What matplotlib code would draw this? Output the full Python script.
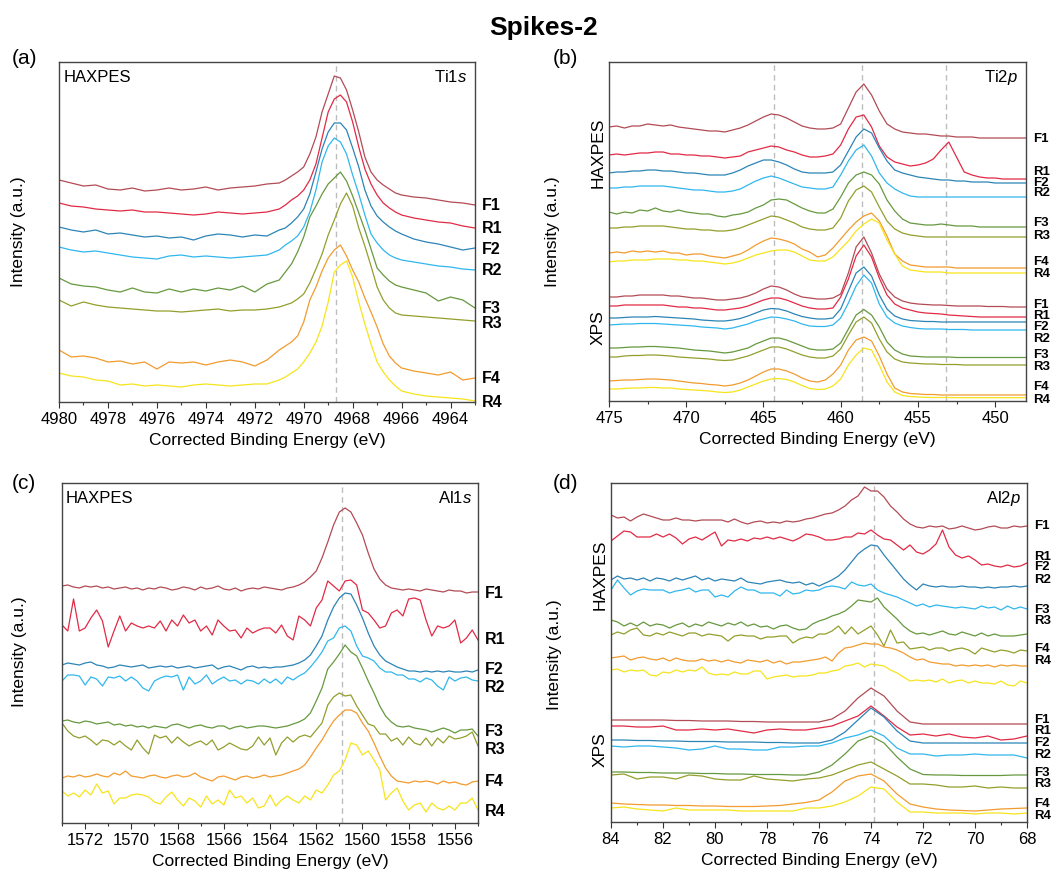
import numpy as np
import matplotlib
matplotlib.use("Agg")
import matplotlib.pyplot as plt
import matplotlib.transforms as mtransforms
from matplotlib.ticker import MultipleLocator

plt.rcParams["font.family"] = ["Liberation Sans", "DejaVu Sans"]
plt.rcParams["mathtext.fontset"] = "custom"
plt.rcParams["mathtext.rm"] = "Liberation Sans"
plt.rcParams["mathtext.it"] = "Liberation Sans:italic"

SAMPLES = ["F1", "R1", "F2", "R2", "F3", "R3", "F4", "R4"]
COLORS = ["#b24b55", "#e12a45", "#2c84b6", "#30b7ee",
          "#66993f", "#939f2c", "#f29b2e", "#f6e41c"]

# ---- (a) Ti 1s, HAXPES (intensity = px above the axis floor, offsets included)
a_energy = [4980, 4979.5, 4979, 4978.5, 4978, 4977.5, 4977, 4976.5, 4976, 4975.5,
            4975, 4974.5, 4974, 4973.5, 4973, 4972.5, 4972, 4971.5, 4971,
            4970.75, 4970.5, 4970.25, 4970, 4969.75, 4969.5, 4969.25, 4969, 4968.75,
            4968.5, 4968.25, 4968, 4967.75, 4967.5, 4967.25, 4967, 4966.75, 4966.5,
            4966.25, 4966, 4965.5, 4965, 4964.5, 4964, 4963.5, 4963]
a_F1 = [222, 219, 216, 217, 213, 212, 214, 211, 212, 214, 212, 213, 215, 212, 214, 215, 216, 218, 219,
        222, 226, 230, 235, 248, 265, 290, 308, 326, 324, 312, 292, 270, 245, 230, 222, 217, 213, 209, 207,
        205, 204, 202, 200, 199, 197]
a_R1 = [199, 196, 195, 193, 192, 191, 192, 190, 190, 189, 188, 187, 188, 190, 189, 188, 189, 190, 193,
        197, 202, 206, 212, 222, 238, 264, 290, 303, 307, 300, 280, 255, 233, 218, 207, 199, 194, 190, 187,
        184, 182, 180, 179, 176, 174]
a_F2 = [175, 172, 170, 172, 168, 169, 167, 165, 166, 164, 165, 162, 166, 168, 167, 165, 167, 166, 172,
        174, 179, 185, 193, 208, 230, 253, 270, 279, 279, 272, 254, 235, 212, 196, 186, 180, 175, 171, 168,
        163, 160, 158, 155, 152, 154]
a_R2 = [155, 152, 150, 151, 149, 147, 145, 144, 143, 146, 147, 145, 146, 145, 144, 145, 146, 147, 152,
        157, 161, 166, 175, 190, 212, 240, 256, 264, 260, 248, 227, 208, 187, 168, 159, 152, 147, 144, 142,
        140, 138, 136, 135, 133, 132]
a_F3 = [124, 118, 116, 115, 112, 110, 114, 110, 109, 113, 110, 113, 111, 114, 112, 116, 110, 118, 122,
        130, 138, 150, 165, 185, 196, 208, 218, 224, 230, 221, 206, 189, 172, 153, 134, 127, 121, 117, 115,
        112, 109, 101, 105, 102, 94]
a_R3 = [102, 96, 100, 97, 95, 94, 93, 92, 91, 91, 90, 91, 92, 93, 91, 92, 92, 93, 95,
        97, 99, 103, 108, 119, 133, 148, 167, 182, 198, 209, 196, 174, 156, 136, 115, 102, 94, 89, 87,
        86, 85, 84, 83, 82, 81]
a_F4 = [52, 45, 46, 44, 40, 41, 38, 40, 33, 40, 39, 40, 37, 40, 42, 40, 36, 42, 52,
        56, 60, 66, 80, 102, 115, 131, 144, 152, 157, 146, 132, 120, 104, 90, 75, 58, 46, 39, 34,
        31, 29, 27, 30, 22, 24]
a_R4 = [29, 26, 25, 22, 21, 17, 18, 16, 17, 16, 15, 17, 18, 17, 16, 17, 18, 18, 22,
        25, 29, 33, 40, 49, 60, 76, 100, 130, 137, 141, 125, 100, 78, 58, 40, 30, 22, 16, 11,
        8, 6, 5, 4, 3, 1]

# ---- (b) Ti 2p, 0.5 eV steps 475 -> 448
b_energy = np.linspace(475, 448, 55)
b_F1 = [274, 275, 273, 275, 275, 277, 276, 275, 276, 274, 273, 272, 271, 270, 270, 269, 271, 273, 276, 280,
        284, 287, 286, 283, 279, 275, 273, 272, 272, 273, 277, 293, 309, 317, 306, 290, 277, 272, 269, 268,
        267, 267, 266, 265, 265, 264, 264, 264, 263, 263, 263, 263, 263, 263, 263]
b_R1 = [246, 247, 246, 247, 248, 248, 249, 249, 247, 247, 246, 246, 245, 245, 244, 243, 244, 245, 249, 251,
        253, 255, 254, 251, 249, 246, 244, 244, 245, 247, 256, 272, 284, 286, 274, 255, 244, 239, 237, 235,
        236, 238, 242, 251, 259, 244, 229, 226, 224, 223, 223, 222, 222, 222, 222]
b_F2 = [228, 229, 229, 230, 230, 231, 231, 230, 230, 229, 228, 228, 227, 226, 226, 226, 228, 231, 235, 238,
        241, 241, 239, 236, 232, 229, 228, 228, 228, 229, 236, 250, 264, 272, 268, 253, 240, 231, 228, 226,
        224, 223, 222, 221, 221, 220, 220, 219, 219, 219, 218, 218, 218, 218, 218]
b_R2 = [213, 213, 214, 214, 215, 215, 215, 215, 214, 213, 212, 211, 211, 210, 209, 209, 210, 212, 216, 220,
        223, 225, 223, 220, 217, 214, 213, 212, 212, 214, 226, 240, 251, 256, 245, 228, 218, 212, 208, 205,
        204, 204, 204, 204, 204, 204, 204, 204, 204, 204, 204, 204, 204, 204, 204]
b_F3 = [189, 187, 189, 188, 191, 190, 193, 190, 189, 191, 189, 188, 187, 187, 185, 184, 186, 187, 189, 193,
        196, 201, 202, 201, 197, 193, 190, 188, 188, 192, 204, 218, 226, 229, 226, 217, 201, 190, 182, 178,
        177, 176, 176, 177, 176, 175, 175, 175, 174, 174, 174, 174, 174, 174, 174]
b_R3 = [173, 173, 174, 174, 175, 175, 175, 175, 174, 173, 172, 172, 171, 171, 170, 170, 171, 173, 176, 179,
        182, 185, 184, 181, 178, 174, 172, 171, 171, 173, 183, 200, 211, 215, 209, 194, 180, 172, 168, 166,
        165, 164, 164, 164, 164, 164, 164, 164, 164, 164, 164, 164, 164, 164, 164]
b_F4 = [148, 149, 148, 150, 149, 150, 149, 150, 148, 148, 146, 147, 147, 145, 144, 143, 145, 147, 151, 156,
        160, 163, 162, 160, 157, 152, 149, 144, 146, 153, 162, 171, 179, 185, 188, 180, 165, 147, 140, 136,
        135, 134, 134, 134, 134, 133, 133, 133, 133, 133, 133, 133, 133, 133, 133]
b_R4 = [139, 140, 140, 141, 141, 141, 142, 142, 142, 141, 141, 140, 140, 139, 138, 137, 138, 140, 143, 146,
        148, 150, 151, 151, 149, 145, 141, 140, 140, 144, 152, 160, 170, 177, 182, 178, 161, 147, 135, 131,
        130, 129, 129, 129, 128, 128, 128, 128, 128, 128, 128, 128, 128, 128, 128]
bx_F1 = [104, 104, 105, 105, 106, 106, 106, 106, 105, 105, 104, 103, 103, 102, 101, 101, 102, 103, 105, 108,
         112, 115, 114, 111, 107, 104, 103, 102, 102, 103, 107, 128, 154, 164, 148, 127, 112, 104, 100, 98,
         97, 96.5, 96, 96, 95.5, 95, 95, 95, 95, 94.5, 94.5, 94.5, 94, 94, 94]
bx_R1 = [95, 95, 96, 96, 96, 96, 96, 96, 95, 94, 94, 93, 93, 92, 91, 91, 92, 93, 95, 98,
         101, 103, 103, 101, 98, 95, 93, 92, 92, 93, 104, 122, 145, 156, 144, 123, 106, 97, 93, 91,
         89, 88, 87.5, 87, 86, 85.5, 85, 84.5, 84, 84, 84, 84, 84, 84, 84]
bx_F2 = [83, 83, 83.5, 84, 84, 84, 84.5, 84, 83.5, 83, 82.5, 82, 81, 80.5, 80, 80, 81, 82.5, 85, 88,
         91, 92.5, 92, 90, 87, 84.5, 83, 82, 82, 83, 92, 110, 128, 134, 125, 106, 92, 85, 82, 80.5,
         80, 79.5, 79.5, 79, 79, 79, 79, 79, 79, 79, 79, 79, 79, 79, 79]
bx_R2 = [76, 76.5, 77, 77, 77.5, 77.5, 77.5, 77, 76.5, 76, 75.5, 75, 74, 73.5, 73, 72, 73, 75, 77, 80,
         82, 84, 83.5, 82, 80, 77, 75, 74.5, 74.5, 76, 83, 98, 115, 126, 118, 97, 84, 78, 75, 73.5,
         72.5, 72, 72, 72, 71.5, 71.5, 71.5, 71, 71, 71, 71, 71, 71, 71, 71]
bx_F3 = [53, 53, 53.5, 54, 54, 54.5, 54.5, 54, 53.5, 53, 52, 51, 50.5, 50, 49, 48, 49, 51, 53, 57,
         60, 63, 63, 61, 58, 55, 52, 51, 51, 52, 58, 72, 86, 91.5, 86, 74, 59, 51, 47, 45,
         44.5, 44, 44, 44, 44, 43.5, 43.5, 43.5, 43.5, 43.5, 43.5, 43.5, 43.5, 43.5, 43.5]
bx_R3 = [44, 44, 45, 45.5, 45.5, 46, 46, 45.5, 45, 44, 43.5, 43, 42.5, 42, 41, 40.5, 41, 43, 45, 48,
         51, 54, 54, 52, 49, 46, 44, 43, 43, 45, 52, 66, 79, 84, 78, 62, 49, 42, 39, 38,
         37.5, 37, 37, 36.5, 36.5, 36.5, 36, 36, 36, 36, 36, 36, 36, 36, 36]
bx_F4 = [20, 20.5, 21, 21, 21.5, 22, 22, 21.5, 21, 20, 19, 18, 17.5, 16.5, 16, 15, 16, 18, 21, 25,
         29, 32, 32, 30, 27, 23, 20, 19, 21, 27, 36, 51, 61, 64, 60, 45, 27, 13, 9, 7.5,
         7, 6.5, 6.5, 6, 6, 6, 6, 6, 6, 6, 6, 6, 6, 6, 6]
bx_R4 = [12, 12, 12.5, 13, 13, 13.5, 13.5, 13, 13, 12, 11.5, 11, 10.5, 10, 9, 8.5, 9, 11, 14, 17,
         20, 22, 22.5, 21.5, 19, 15.5, 12.5, 11.5, 12, 15, 22, 36, 46, 53, 51, 36, 19, 9, 5.5, 4.5,
         4, 3.7, 3.5, 3.5, 3.5, 3.3, 3.3, 3.3, 3.3, 3.3, 3.3, 3.3, 3.3, 3.3, 3.3]

# ---- (c) Al 1s, 0.25 eV steps 1573 -> 1555
c_energy = np.linspace(1573, 1555, 73)
c_F1 = [237, 238, 236, 235, 237, 236, 237, 235, 236, 234, 235, 236, 234, 235, 233, 235, 234, 236, 235, 233,
        234, 236, 235, 233, 236, 234, 235, 237, 234, 233, 235, 232, 234, 235, 234, 236,
        235, 234, 233, 235, 236, 238, 241, 246, 252, 265, 281, 298, 311, 315, 311, 300, 288, 270, 254, 244,
        238, 235, 234, 233, 234, 233, 232, 234, 233, 232, 231, 233, 232, 232, 230, 231, 231]
c_R1 = [198, 192, 224, 192, 195, 205, 213, 202, 176, 192, 207, 192, 200, 197, 195, 197, 195, 202, 192, 203,
        197, 208, 200, 203, 192, 197, 188, 203, 197, 192, 193, 185, 195, 190, 193, 195,
        195, 190, 198, 187, 183, 207, 203, 197, 215, 223, 242, 237, 232, 242, 243, 238, 213, 210, 203, 195,
        197, 210, 213, 207, 224, 225, 223, 203, 187, 197, 195, 197, 203, 180, 185, 193, 183]
c_F2 = [158, 160, 159, 158, 160, 161, 158, 157, 155, 156, 158, 157, 156, 157, 158, 155, 156, 157, 156, 157,
        155, 156, 157, 155, 156, 157, 158, 154, 156, 157, 155, 153, 156, 157, 155, 156,
        155, 156, 156, 157, 158, 160, 163, 168, 177, 187, 203, 216, 225, 230, 229, 218, 205, 190, 177, 168,
        162, 159, 156, 154, 152, 152, 151, 152, 151, 152, 151, 152, 151, 151, 152, 151, 153]
c_R2 = [142, 148, 148, 147, 138, 146, 144, 137, 146, 145, 147, 142, 146, 142, 135, 132, 142, 145, 147, 146,
        148, 133, 146, 139, 142, 148, 139, 143, 146, 142, 143, 139, 143, 142, 139, 144,
        140, 144, 139, 146, 143, 147, 150, 156, 163, 171, 182, 185, 195, 197, 192, 177, 167, 165, 162, 155,
        151, 151, 148, 148, 144, 144, 141, 145, 143, 137, 133, 146, 142, 145, 146, 143, 142]
c_F3 = [102, 103, 101, 100, 102, 101, 99, 100, 101, 98, 99, 97, 98, 96, 97, 95, 97, 96, 95, 98,
        99, 97, 95, 97, 98, 96, 95, 97, 97, 94, 96, 97, 95, 96, 97, 97,
        96, 95, 96, 97, 99, 101, 104, 110, 122, 135, 154, 161, 169, 178, 171, 167, 155, 142, 130, 117,
        107, 101, 97, 96, 97, 95, 94, 93, 91, 93, 95, 93, 90, 93, 93, 94, 87]
c_R3 = [100, 92, 87, 85, 87, 83, 78, 83, 82, 78, 82, 77, 73, 83, 75, 69, 88, 85, 87, 80,
        86, 81, 77, 80, 82, 78, 83, 73, 76, 80, 77, 74, 73, 77, 86, 78,
        85, 68, 80, 86, 81, 86, 88, 86, 93, 100, 118, 126, 130, 127, 128, 117, 108, 99, 97, 89,
        89, 82, 85, 78, 86, 80, 78, 85, 77, 85, 80, 87, 84, 85, 87, 91, 77]
c_F4 = [45, 47, 46, 48, 46, 47, 49, 47, 46, 50, 48, 52, 47, 46, 45, 47, 48, 46, 45, 47,
        48, 46, 47, 50, 46, 44, 42, 46, 47, 45, 43, 46, 47, 45, 46, 48,
        46, 47, 48, 50, 52, 54, 58, 66, 75, 83, 93, 102, 108, 113, 113, 110, 100, 92, 80, 67,
        55, 47, 42, 41, 40, 42, 41, 42, 41, 39, 42, 40, 41, 39, 38, 41, 42]
c_R4 = [32, 27, 30, 26, 33, 28, 39, 30, 32, 19, 25, 25, 28, 29, 28, 26, 21, 19, 26, 31,
        23, 17, 25, 22, 16, 27, 19, 23, 18, 33, 25, 27, 20, 25, 15, 17,
        28, 17, 23, 27, 23, 20, 27, 23, 33, 30, 38, 48, 52, 63, 80, 78, 68, 72, 63, 53,
        23, 30, 35, 22, 13, 18, 20, 11, 20, 15, 13, 17, 13, 20, 20, 25, 13]

# ---- (d) Al 2p, HAXPES at 0.25 eV, XPS at 0.5 eV, 84 -> 68
d_energy = np.linspace(84, 68, 65)
d_F1 = [307, 304, 305, 301, 305, 308, 306, 304, 302, 302, 304, 302, 302, 301, 302, 302, 302, 302, 300, 303,
        300, 298, 300, 301, 299, 300, 299, 301, 300, 301, 303, 304,
        306, 308, 309, 312, 316, 322, 326, 335, 331, 331, 325, 316, 310, 303, 298, 295, 294, 296, 295, 296,
        293, 294, 296, 294, 292, 293, 295, 296, 294, 294, 296, 295, 296]
d_R1 = [281, 286, 291, 290, 285, 285, 285, 288, 285, 288, 284, 278, 283, 285, 282, 286, 290, 276, 282, 281,
        283, 281, 284, 283, 285, 283, 285, 283, 281, 284, 288, 287,
        285, 282, 282, 283, 285, 285, 289, 288, 292, 287, 283, 282, 277, 272, 277, 270, 268, 272, 278, 292,
        275, 267, 264, 266, 262, 257, 258, 256, 255, 257, 255, 256, 259]
d_F2 = [242, 246, 243, 244, 242, 244, 241, 244, 243, 241, 244, 242, 244, 246, 242, 244, 241, 243, 242, 241,
        244, 240, 239, 238, 240, 241, 242, 240, 239, 240, 237, 239,
        236, 239, 242, 246, 252, 260, 268, 273, 277, 276, 267, 259, 251, 243, 237, 232, 238, 236, 235, 236,
        235, 235, 236, 235, 235, 234, 235, 234, 235, 235, 236, 235, 236]
d_R2 = [232, 242, 234, 227, 231, 233, 232, 232, 232, 229, 231, 232, 234, 230, 232, 232, 225, 227, 225, 231,
        235, 232, 232, 229, 229, 229, 226, 232, 228, 229, 232, 231,
        232, 235, 236, 235, 233, 240, 237, 236, 238, 232, 229, 227, 225, 222, 219, 216, 218, 215, 217, 216,
        215, 214, 215, 214, 213, 216, 214, 215, 212, 216, 213, 215, 213]
d_F3 = [202, 200, 196, 199, 196, 200, 196, 198, 197, 194, 197, 199, 195, 198, 196, 200, 198, 196, 199, 197,
        200, 196, 198, 195, 196, 193, 196, 197, 194, 192, 193, 198,
        201, 203, 206, 208, 211, 216, 222, 221, 220, 224, 215, 209, 203, 196, 191, 188, 189, 187, 189, 191,
        188, 187, 190, 188, 186, 189, 186, 188, 186, 186, 186, 187, 188]
d_R3 = [187, 190, 188, 192, 194, 187, 186, 189, 187, 190, 188, 186, 189, 189, 186, 188, 187, 186, 181, 186,
        187, 186, 186, 183, 185, 185, 186, 186, 179, 183, 185, 184,
        188, 188, 191, 196, 188, 195, 188, 192, 196, 187, 176, 192, 179, 180, 173, 174, 175, 172, 174, 174,
        171, 173, 174, 172, 168, 174, 172, 170, 172, 171, 169, 172, 171]
d_F4 = [164, 165, 166, 162, 164, 165, 163, 162, 164, 161, 164, 162, 161, 161, 163, 161, 162, 160, 162, 160,
        159, 162, 161, 160, 162, 159, 161, 158, 160, 160, 161, 162,
        163, 165, 161, 169, 174, 175, 177, 179, 178, 178, 175, 174, 172, 169, 165, 162, 163, 160, 159, 158,
        158, 156, 157, 156, 157, 156, 157, 155, 157, 156, 157, 156, 156]
d_R4 = [152, 153, 150, 152, 151, 152, 147, 146, 150, 149, 152, 150, 152, 151, 155, 149, 147, 148, 147, 150,
        148, 148, 151, 151, 143, 145, 146, 147, 145, 146, 146, 147,
        149, 149, 151, 152, 156, 157, 159, 155, 158, 157, 156, 152, 149, 145, 141, 142, 141, 142, 140, 143,
        139, 141, 142, 139, 141, 139, 139, 138, 141, 137, 136, 141, 139]
dx_energy = np.linspace(84, 68, 33)
dx_F1 = [102, 102, 102, 102, 102, 101.5, 101.5, 101, 101, 101, 100.5, 100.5, 100, 100, 100, 100,
         100, 103, 111, 124, 134, 126, 111, 100, 98, 98, 98, 98, 98, 98, 98, 98, 98]
dx_R1 = [96, 96, 95, 95, 96, 92, 92, 93, 92, 93, 91, 89, 92, 93, 92, 92,
         94, 96, 101, 106, 116, 106, 95, 87, 88, 86, 88, 85, 84, 86, 82, 83, 86]
dx_F2 = [82, 82, 81.5, 81.5, 81, 81, 80.5, 80.5, 80.5, 80, 80, 80, 79.5, 79.5, 79, 79,
         79, 82, 90, 102, 114, 105, 91, 81, 79, 79, 79, 79, 79, 79, 79, 79, 79]
dx_R2 = [76, 75, 76, 76, 75, 74, 72, 73, 76, 73, 73, 72, 72, 75, 75, 76,
         76, 79, 84, 87, 92, 86, 74, 68, 68, 66, 67, 67, 68, 67, 67, 67, 64]
dx_F3 = [50, 50, 49.5, 49.5, 49, 49, 49, 48.5, 48.5, 48, 48, 47.5, 47.5, 47.5, 47, 47,
         50, 57, 68, 81, 86, 79, 65, 53, 47.5, 47, 47, 46.5, 46.5, 46.5, 46.5, 47, 47]
dx_R3 = [47, 48, 43, 45, 45, 43, 47, 46, 43, 42, 42, 46, 43, 42, 41, 43,
         44, 47, 52, 57, 60, 53, 46, 38, 38, 37, 35, 35, 36, 34, 35, 34, 34]
dx_F4 = [19, 18, 17.5, 17, 17, 16.5, 16.5, 16, 16, 15.5, 15.5, 15.5, 16, 16.5, 18, 19.5,
         22, 30, 41, 46, 48, 41, 28, 18, 15, 13, 12, 11.5, 11, 12, 13, 13.5, 14]
dx_R4 = [14, 15, 13, 12, 11, 14, 12, 12, 12, 12, 11, 11, 11, 11, 11, 14,
         14, 16, 20, 26, 35, 33, 20, 10, 10, 9, 9, 9, 8, 9, 9, 8, 9]

# sample labels on the right edge, heights as placed in the original
a_label_y = [197, 174, 153, 132, 94, 79, 24, 0]
b_label_y = [262, 229, 218.5, 208, 178, 165, 139, 127, 96, 85, 74, 62.5, 46, 34.5, 13.5, 1]
c_label_y = [230, 184, 154, 135, 92, 73, 42, 12]
d_label_y = [296, 265, 254.5, 242, 212, 201, 173, 161, 102, 90.5, 79.5, 67.5, 49, 38, 18, 6]

W, H = 1060, 876


def px_axes(fig, left, top, right, bottom):
    return fig.add_axes([left / W, 1 - bottom / H, (right - left) / W, (bottom - top) / H])


def draw_traces(ax, energy, traces):
    for y, c in zip(traces, COLORS):
        ax.plot(energy, y, color=c, lw=0.9)


def style(ax, xlim, ytop, major, minor, marks):
    ax.set_xlim(*xlim)
    ax.set_ylim(0, ytop)
    ax.set_yticks([])
    ax.xaxis.set_major_locator(MultipleLocator(major))
    ax.xaxis.set_minor_locator(MultipleLocator(minor))
    ax.tick_params(axis="x", which="major", direction="out", length=4.5, width=0.8,
                   labelsize=12, pad=3, color="#333333")
    ax.tick_params(axis="x", which="minor", direction="out", length=2.5, width=0.8,
                   color="#333333")
    for s in ax.spines.values():
        s.set_color("#444444")
        s.set_linewidth(1.0)
    for m in marks:
        ax.axvline(m, color="#bdbdbd", ls=(0, (4, 3)), lw=1.0, zorder=0.5)
    ax.set_xlabel("Corrected Binding Energy (eV)", fontsize=12.5, labelpad=4)


def side_labels(ax, names, ys, fs=11.5):
    trans = mtransforms.blended_transform_factory(ax.transAxes, ax.transData)
    for name, y in zip(names, ys):
        ax.annotate(name, xy=(1, y), xycoords=trans, xytext=(5, 0),
                    textcoords="offset points", ha="left", va="center",
                    fontsize=fs, fontweight="bold", annotation_clip=False)


fig = plt.figure(figsize=(W / 100, H / 100), dpi=100)

# (a)
ax = px_axes(fig, 59, 62, 475, 402)
draw_traces(ax, a_energy, [a_F1, a_R1, a_F2, a_R2, a_F3, a_R3, a_F4, a_R4])
style(ax, (4980, 4963), 340, 2, 1, [4968.7])
side_labels(ax, SAMPLES, a_label_y)
ax.text(0.01, 0.94, "HAXPES", transform=ax.transAxes, fontsize=12, va="baseline")
ax.text(0.981, 0.94, r"Ti$\mathit{1s}$", transform=ax.transAxes, fontsize=12,
        ha="right", va="baseline")

# (b)
ax = px_axes(fig, 609, 62, 1026, 401)
draw_traces(ax, b_energy, [b_F1, b_R1, b_F2, b_R2, b_F3, b_R3, b_F4, b_R4])
draw_traces(ax, b_energy, [bx_F1, bx_R1, bx_F2, bx_R2, bx_F3, bx_R3, bx_F4, bx_R4])
style(ax, (475, 448), 339, 5, 2.5, [464.3, 458.6, 453.2])
side_labels(ax, SAMPLES * 2, b_label_y, fs=9.5)
ax.text(0.981, 0.94, r"Ti$\mathit{2p}$", transform=ax.transAxes, fontsize=12,
        ha="right", va="baseline")

# (c)
ax = px_axes(fig, 62, 483, 478, 823)
draw_traces(ax, c_energy, [c_F1, c_R1, c_F2, c_R2, c_F3, c_R3, c_F4, c_R4])
style(ax, (1573, 1555), 340, 2, 1, [1560.9])
side_labels(ax, SAMPLES, c_label_y)
ax.text(0.008, 0.94, "HAXPES", transform=ax.transAxes, fontsize=12, va="baseline")
ax.text(0.985, 0.94, r"Al$\mathit{1s}$", transform=ax.transAxes, fontsize=12,
        ha="right", va="baseline")

# (d)
ax = px_axes(fig, 611, 483, 1027, 822)
draw_traces(ax, d_energy, [d_F1, d_R1, d_F2, d_R2, d_F3, d_R3, d_F4, d_R4])
draw_traces(ax, dx_energy, [dx_F1, dx_R1, dx_F2, dx_R2, dx_F3, dx_R3, dx_F4, dx_R4])
style(ax, (84, 68), 339, 2, 1, [73.9])
side_labels(ax, SAMPLES * 2, d_label_y, fs=9.5)
ax.text(0.985, 0.94, r"Al$\mathit{2p}$", transform=ax.transAxes, fontsize=12,
        ha="right", va="baseline")

# figure-level text
fig.text(544 / W, 1 - 35 / H, "Spikes-2", ha="center", va="baseline",
         fontsize=19, fontweight="bold")
for lab, x, y in [("(a)", 12, 64), ("(b)", 553, 64), ("(c)", 12, 489), ("(d)", 553, 489)]:
    fig.text(x / W, 1 - y / H, lab, ha="left", va="baseline", fontsize=15)
for x, y in [(19, 232), (553, 232), (20, 652), (555, 655)]:
    fig.text(x / W, 1 - y / H, "Intensity (a.u.)", rotation=90, ha="center",
             va="center", fontsize=12.5)
for txt, x, y in [("HAXPES", 598, 153), ("XPS", 598, 328), ("HAXPES", 600, 575), ("XPS", 600, 750)]:
    fig.text(x / W, 1 - y / H, txt, rotation=90, ha="center", va="center", fontsize=12.5)

fig.savefig("out.png", dpi=100)
